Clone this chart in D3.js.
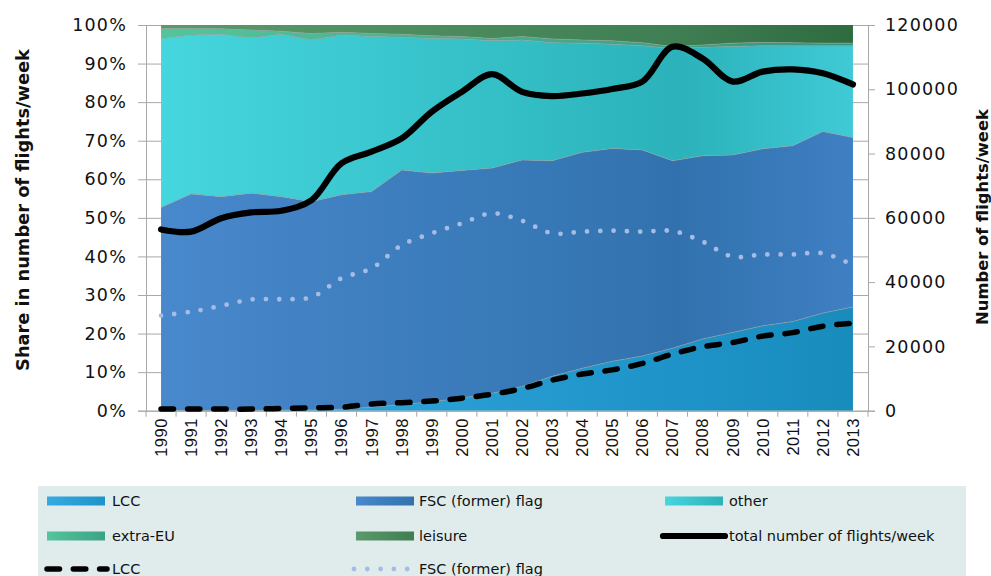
<!DOCTYPE html>
<html>
<head>
<meta charset="utf-8">
<script src="https://cdn.jsdelivr.net/npm/d3@7"></script>
<style>
  html, body { margin: 0; padding: 0; background: #ffffff; }
  svg { display: block; font-family: "DejaVu Sans", sans-serif; }
</style>
</head>
<body>
<svg id="chart" width="991" height="576"></svg>
<script>
// ---------------- DATA ----------------
const years = ["1990","1991","1992","1993","1994","1995","1996","1997","1998","1999","2000","2001",
               "2002","2003","2004","2005","2006","2007","2008","2009","2010","2011","2012","2013"];

// shares in % of weekly flights (stacked, sum = 100)
const shareLCC     = [0.1,0.1,0.1,0.1,0.2,0.2,0.4,0.9,1.6,2.3,3.3,4.5,6.3,8.9,11.0,12.8,14.2,16.2,18.6,20.3,22.0,23.1,25.3,26.9];
const shareFSC     = [52.6,56.1,55.4,56.3,55.3,54.0,55.6,55.9,60.8,59.3,59.0,58.4,58.7,55.9,56.0,55.2,53.4,48.6,47.5,46.0,45.9,45.6,47.1,43.9];
const shareOther   = [43.8,41.2,42.1,40.3,42.1,41.9,41.4,40.2,34.4,34.9,34.1,33.0,31.1,30.6,28.3,27.0,27.0,29.1,28.1,28.1,26.7,25.9,22.2,23.8];
const shareExtraEU = [2.6,1.7,1.4,2.0,0.8,1.7,0.7,0.8,0.8,0.7,0.6,0.6,0.9,1.0,0.8,0.9,0.8,0.5,0.6,0.9,0.9,0.8,0.7,0.7];
const shareLeisure = [0.9,0.9,1.0,1.3,1.6,2.2,1.9,2.2,2.4,2.8,3.0,3.5,3.0,3.6,3.9,4.1,4.6,5.6,5.2,4.7,4.5,4.6,4.7,4.7];

// number of flights per week (right axis)
const totalFlights = [56400,55700,59900,61700,62200,65500,77000,80600,84700,93000,99200,104700,
                      99200,97900,98700,100100,102400,113200,109600,102400,105500,106200,105000,101500];
const lccFlights   = [500,500,500,500,700,900,1100,2100,2500,3000,3900,5100,
                      6900,9500,11400,12700,14700,17600,19900,21200,23200,24300,26300,27200];
const fscFlights   = [29600,30800,32600,34600,34700,35300,41200,44300,51500,55200,58300,61400,
                      59100,55200,55700,56000,55700,55900,52600,47900,48600,48600,49000,45300];

const leftTicks  = [0,10,20,30,40,50,60,70,80,90,100];
const rightTicks = [0,20000,40000,60000,80000,100000,120000];

const layerKeys   = ["LCC","FSC (former) flag","other","extra-EU","leisure"];
const layerSeries = [shareLCC, shareFSC, shareOther, shareExtraEU, shareLeisure];
const layerColors = [
  ["#34abe2","#1e93c8","#188cbc"],
  ["#4888cc","#3172ae","#3f7fc3"],
  ["#46d6de","#2bb2ba","#3fcad6"],
  ["#55c49c","#3aa384","#34977a"],
  ["#5a9a6a","#3f7e52","#2e6c40"]
];

// ---------------- LAYOUT ----------------
const svg = d3.select("#chart");
const L = 146, R = 868, T = 25, B = 410.7;

const x = d3.scaleBand().domain(years).range([L, R]).padding(0);
const cx = d => x(d) + x.bandwidth() / 2;
const yL = d3.scaleLinear().domain([0, 100]).range([B, T]);
const yR = d3.scaleLinear().domain([0, 120000]).range([B, T]);

const table = years.map((yr, i) => {
  const o = { year: yr };
  layerKeys.forEach((k, j) => o[k] = layerSeries[j][i]);
  return o;
});
const stacked = d3.stack().keys(layerKeys)(table);

// gradients
const defs = svg.append("defs");
layerColors.forEach((c, i) => {
  const g = defs.append("linearGradient").attr("id", "g" + i)
    .attr("gradientUnits", "userSpaceOnUse")
    .attr("x1", cx(years[0])).attr("x2", cx(years[years.length - 1]))
    .attr("y1", 0).attr("y2", 0);
  g.append("stop").attr("offset", "0%").attr("stop-color", c[0]);
  g.append("stop").attr("offset", "75%").attr("stop-color", c[1]);
  g.append("stop").attr("offset", "100%").attr("stop-color", c[2]);
});
layerColors.forEach((c, i) => {
  const g = defs.append("linearGradient").attr("id", "lg" + i)
    .attr("x1", "0%").attr("x2", "100%").attr("y1", "0%").attr("y2", "0%");
  g.append("stop").attr("offset", "0%").attr("stop-color", c[0]);
  g.append("stop").attr("offset", "100%").attr("stop-color", c[1]);
});

// gridlines (behind)
const grid = svg.append("g").attr("transform", `translate(${L},0)`)
  .call(d3.axisLeft(yL).tickValues(leftTicks).tickSize(-(R - L)).tickFormat(""));
grid.select(".domain").remove();
grid.selectAll("line").attr("stroke", "#a8a8a8").attr("stroke-width", 1);

// stacked areas
const area = d3.area()
  .x(d => cx(d.data.year))
  .y0(d => yL(d[0]))
  .y1(d => yL(d[1]));
svg.append("g").selectAll("path").data(stacked).join("path")
  .attr("d", area)
  .attr("fill", (d, i) => `url(#g${i})`);

// thin boundaries
const edge = d3.line().x(d => cx(d.data.year)).y(d => yL(d[1]));
svg.append("g").selectAll("path").data(stacked.slice(0, 4)).join("path")
  .attr("d", edge).attr("fill", "none")
  .attr("stroke", "#8f9c9c").attr("stroke-width", 0.8).attr("stroke-opacity", 0.8);

// axes
const axL = svg.append("g").attr("transform", `translate(${L},0)`)
  .call(d3.axisLeft(yL).tickValues(leftTicks).tickSize(8).tickPadding(11).tickFormat(d => d + "%"));
const axR = svg.append("g").attr("transform", `translate(${R},0)`)
  .call(d3.axisRight(yR).tickValues(rightTicks).tickSize(7).tickPadding(10).tickFormat(d3.format("d")));
const axB = svg.append("g").attr("transform", `translate(0,${B})`)
  .call(d3.axisBottom(x).tickSize(0).tickPadding(8));

[axL, axR].forEach(a => {
  a.select(".domain").attr("stroke", "#a8a8a8");
  a.selectAll(".tick line").attr("stroke", "#a8a8a8");
  a.selectAll("text").attr("font-size", 17.5).attr("fill", "#111")
    .attr("font-family", "DejaVu Sans").attr("letter-spacing", 1.2);
});
axB.select(".domain").attr("stroke", "#a8a8a8");
axB.selectAll(".tick text")
  .attr("font-size", 16.5).attr("fill", "#111").attr("letter-spacing", 0.5)
  .attr("transform", "rotate(-90)")
  .attr("text-anchor", "end").attr("dx", "-0.45em").attr("dy", "0.36em")
  .attr("x", 0).attr("y", 0);
// band boundary tick marks
const boundaries = years.map(y => x(y)).concat([R]);
svg.append("g").selectAll("line").data(boundaries).join("line")
  .attr("x1", d => d).attr("x2", d => d).attr("y1", B).attr("y2", B + 6)
  .attr("stroke", "#a8a8a8");

// lines on right axis
const curve = d3.curveCatmullRom.alpha(0.5);
const lineR = d3.line().x((d, i) => cx(years[i])).y(d => yR(d)).curve(curve);

svg.append("path").attr("d", lineR(fscFlights)).attr("fill", "none")
  .attr("stroke", "#a6bce4").attr("stroke-width", 4.8)
  .attr("stroke-linecap", "round").attr("stroke-dasharray", "0 13.3");
svg.append("path").attr("d", lineR(lccFlights)).attr("fill", "none")
  .attr("stroke", "#000").attr("stroke-width", 5.5)
  .attr("stroke-linecap", "round").attr("stroke-dasharray", "12.5 13.8");
svg.append("path").attr("d", lineR(totalFlights)).attr("fill", "none")
  .attr("stroke", "#000").attr("stroke-width", 6.2)
  .attr("stroke-linecap", "round").attr("stroke-linejoin", "round");

// axis titles
function fitTitle(sel, target) {
  const len = sel.node().getComputedTextLength();
  const fs = parseFloat(sel.attr("font-size"));
  sel.attr("font-size", fs * target / len);
}
const tl = svg.append("text").text("Share in number of flights/week")
  .attr("transform", "translate(22,210) rotate(-90)")
  .attr("text-anchor", "middle").attr("dominant-baseline", "central")
  .attr("font-weight", "bold").attr("font-size", 16).attr("fill", "#111");
fitTitle(tl, 322);
const tr = svg.append("text").text("Number of flights/week")
  .attr("transform", "translate(982,217) rotate(-90)")
  .attr("text-anchor", "middle").attr("dominant-baseline", "central")
  .attr("font-weight", "bold").attr("font-size", 16).attr("fill", "#111");
fitTitle(tr, 216);

// ---------------- LEGEND ----------------
const lg = svg.append("g");
lg.append("rect").attr("x", 38).attr("y", 486).attr("width", 928).attr("height", 95).attr("fill", "#e0ecec");

const legendItems = [
  { label: "LCC", type: "area", idx: 0, col: 0, row: 0 },
  { label: "FSC (former) flag", type: "area", idx: 1, col: 1, row: 0 },
  { label: "other", type: "area", idx: 2, col: 2, row: 0 },
  { label: "extra-EU", type: "area", idx: 3, col: 0, row: 1 },
  { label: "leisure", type: "area", idx: 4, col: 1, row: 1 },
  { label: "total number of flights/week", type: "total", col: 2, row: 1 },
  { label: "LCC", type: "dash", col: 0, row: 2 },
  { label: "FSC (former) flag", type: "dot", col: 1, row: 2 }
];
const colX = [47, 356, 665];
const textX = [112, 419, 729];
const rowY = [501, 536, 569];
legendItems.forEach(it => {
  const sx = colX[it.col], y = rowY[it.row];
  if (it.type === "area") {
    lg.append("rect").attr("x", sx).attr("y", y - 4.5).attr("width", 58).attr("height", 9)
      .attr("fill", `url(#lg${it.idx})`);
  } else if (it.type === "total") {
    lg.append("line").attr("x1", sx - 2).attr("x2", sx + 60).attr("y1", y).attr("y2", y)
      .attr("stroke", "#000").attr("stroke-width", 6.2).attr("stroke-linecap", "round");
  } else if (it.type === "dash") {
    lg.append("line").attr("x1", sx).attr("x2", sx + 60).attr("y1", y).attr("y2", y)
      .attr("stroke", "#000").attr("stroke-width", 5.5).attr("stroke-linecap", "round")
      .attr("stroke-dasharray", "12.5 13.8");
  } else {
    lg.append("line").attr("x1", sx - 2).attr("x2", sx + 56).attr("y1", y).attr("y2", y)
      .attr("stroke", "#a6bce4").attr("stroke-width", 4.8).attr("stroke-linecap", "round")
      .attr("stroke-dasharray", "0 13.3");
  }
  lg.append("text").attr("x", textX[it.col]).attr("y", y).attr("dy", "0.36em")
    .attr("font-size", 14.5).attr("fill", "#111").text(it.label);
});
</script>
</body>
</html>
